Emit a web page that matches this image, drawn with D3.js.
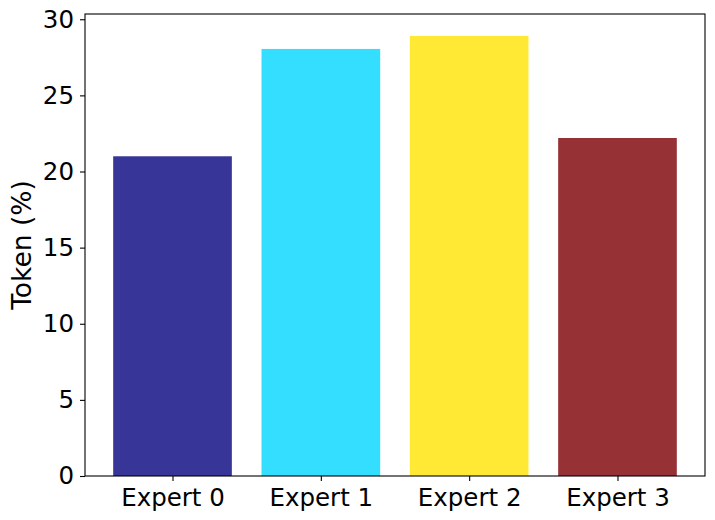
<!DOCTYPE html>
<html>
<head>
<meta charset="utf-8">
<script src="https://cdn.jsdelivr.net/npm/d3@7"></script>
<style>
  body { margin: 0; background: #fff; }
  svg { display: block; font-family: "DejaVu Sans", sans-serif; }
</style>
</head>
<body>
<div id="chart"></div>
<script>
var experts = ["Expert 0", "Expert 1", "Expert 2", "Expert 3"];
var tokenPct = [21.0, 28.05, 28.9, 22.2];
var barColors = ["#373597", "#34DEFF", "#FFE934", "#963235"];
var yTicks = [0, 5, 10, 15, 20, 25, 30];

var width = 715,
    height = 520,
    margin = {top: 14, right: 10, bottom: 44, left: 85};

var innerW = width - margin.left - margin.right,
    innerH = height - margin.top - margin.bottom;

var svg = d3.select("#chart")
  .append("svg")
  .attr("width", width)
  .attr("height", height);

var g = svg.append("g")
  .attr("transform", `translate(${margin.left},${margin.top})`);

// matplotlib-like linear x: bars of width 0.8 at 0..n-1 with 5% margins
var n = experts.length;
var span = (n - 1) + 0.8;
var pad = span * 0.05;
var xScale = d3.scaleLinear()
  .domain([-0.4 - pad, n - 1 + 0.4 + pad])
  .range([0, innerW]);

var yScale = d3.scaleLinear()
  .domain([0, d3.max(tokenPct) * 1.05])
  .range([innerH, 0]);

// bars
g.selectAll(".bar")
  .data(tokenPct)
  .enter().append("rect")
  .attr("class", "bar")
  .attr("x", (d, i) => xScale(i - 0.4))
  .attr("width", xScale(0.4) - xScale(-0.4))
  .attr("y", d => yScale(d))
  .attr("height", d => innerH - yScale(d))
  .style("fill", (d, i) => barColors[i]);

// x axis
var xAxis = d3.axisBottom(xScale)
  .tickValues(d3.range(n))
  .tickFormat(i => experts[i])
  .tickSizeInner(5)
  .tickSizeOuter(0)
  .tickPadding(5);

var gx = g.append("g")
  .attr("transform", `translate(0,${innerH})`)
  .call(xAxis);
gx.select(".domain").remove();
gx.selectAll("text")
  .attr("font-family", "DejaVu Sans")
  .attr("font-size", "24.5px")
  .attr("fill", "#000")
  .attr("dy", "0.8em");
gx.selectAll("line").attr("stroke", "#000").attr("stroke-width", 1.1);

// y axis
var yAxis = d3.axisLeft(yScale)
  .tickValues(yTicks)
  .tickSizeInner(5)
  .tickSizeOuter(0)
  .tickPadding(6);

var gy = g.append("g").call(yAxis);
gy.select(".domain").remove();
gy.selectAll("text")
  .attr("font-family", "DejaVu Sans")
  .attr("font-size", "24.5px")
  .attr("fill", "#000");
gy.selectAll("line").attr("stroke", "#000").attr("stroke-width", 1.1);

// frame
g.append("rect")
  .attr("x", 0).attr("y", 0)
  .attr("width", innerW).attr("height", innerH)
  .attr("fill", "none")
  .attr("stroke", "#000")
  .attr("stroke-width", 1.1);

// y label
svg.append("text")
  .attr("transform", `translate(31,${margin.top + innerH / 2}) rotate(-90)`)
  .attr("text-anchor", "middle")
  .attr("font-family", "DejaVu Sans")
  .attr("font-size", "26.5px")
  .attr("fill", "#000")
  .text("Token (%)");
</script>
</body>
</html>
